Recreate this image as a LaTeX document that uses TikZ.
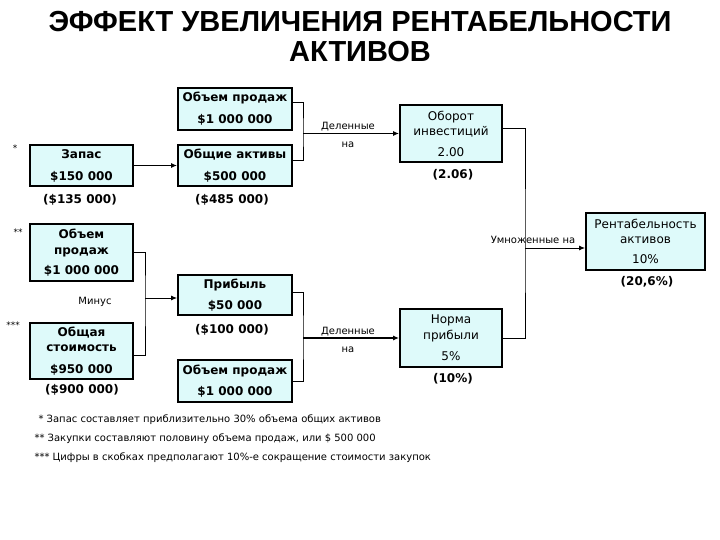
\documentclass[tikz,border=0pt]{standalone}
\usepackage{fontspec}
\setmainfont{DejaVu Sans}
\newfontfamily\titlefont{Liberation Sans}
\usetikzlibrary{arrows.meta}
\definecolor{boxfill}{RGB}{222,250,250}
\begin{document}
\begin{tikzpicture}[x=1pt,y=-1pt,
  box/.style={draw=black, line width=1.8pt, fill=boxfill, inner sep=0pt, align=center},
  bbox/.style={box, font=\bfseries\fontsize{12}{14}\selectfont},
  rbox/.style={box, font=\fontsize{12}{14}\selectfont},
  val/.style={font=\bfseries\fontsize{12}{14}\selectfont},
  lbl/.style={font=\fontsize{10}{12}\selectfont},
  note/.style={font=\fontsize{10}{12}\selectfont, anchor=west},
  star/.style={font=\fontsize{9}{10}\selectfont},
  thin/.style={line width=1pt},
  thickarr/.style={line width=1.6pt, -{Latex[length=6pt,width=5pt]}},
  thinarr/.style={line width=1pt, -{Latex[length=6pt,width=5pt]}}]
\fill[white] (0,0) rectangle (720,540);
\useasboundingbox (0,0) rectangle (720,540);

% title
\node[font=\titlefont\bfseries\fontsize{29}{31}\selectfont] (t1) at (360,22) {ЭФФЕКТ УВЕЛИЧЕНИЯ РЕНТАБЕЛЬНОСТИ};
\node[font=\titlefont\bfseries\fontsize{29}{31}\selectfont] (t2) at (360,52) {АКТИВОВ};

% boxes
\node[bbox, minimum width=114pt, minimum height=42pt] (vol1) at (235,109) {Объем продаж\\[8pt]\$1 000 000};
\node[bbox, minimum width=103pt, minimum height=41pt] (stock) at (81.5,165.5) {Запас\\[8pt]\$150 000};
\node[bbox, minimum width=114pt, minimum height=41pt] (assets) at (235,165.5) {Общие активы\\[8pt]\$500 000};
\node[rbox, minimum width=102pt, minimum height=57pt] (turn) at (451,133.5) {Оборот\\[1pt]инвестиций\\[7pt]2.00};
\node[bbox, minimum width=103pt, minimum height=57pt] (vol2) at (81.5,252.5) {Объем\\[2pt]продаж\\[6pt]\$1 000 000};
\node[rbox, minimum width=119pt, minimum height=57pt] (roa) at (645.5,241.5) {Рентабельность\\[1pt]активов\\[6pt]10\%};
\node[bbox, minimum width=114pt, minimum height=40pt] (profit) at (235,295) {Прибыль\\[7pt]\$50 000};
\node[bbox, minimum width=103pt, minimum height=56pt] (cost) at (81.5,351) {Общая\\[1pt]стоимость\\[8pt]\$950 000};
\node[rbox, minimum width=102pt, minimum height=58pt] (margin) at (451,338) {Норма\\[2pt]прибыли\\[7pt]5\%};
\node[bbox, minimum width=114pt, minimum height=42pt] (vol3) at (235,381) {Объем продаж\\[7pt]\$1 000 000};

% values below boxes
\node[val] (v1) at (80,200) {(\$135 000)};
\node[val] (v2) at (232,200) {(\$485 000)};
\node[val] (v3) at (453,175) {(2.06)};
\node[val] (v4) at (647,282) {(20,6\%)};
\node[val] (v5) at (232,330) {(\$100 000)};
\node[val] (v6) at (82,390) {(\$900 000)};
\node[val] (v7) at (453,379) {(10\%)};

% stars
\node[star] (s1) at (15,148) {*};
\node[star] (s2) at (18,232) {**};
\node[star] (s3) at (13,325) {***};

% labels
\node[lbl] (l1) at (348,127) {Деленные};
\node[lbl] (l2) at (348,145) {на};
\node[lbl] (l3) at (348,332) {Деленные};
\node[lbl] (l4) at (348,350) {на};
\node[lbl] (l5) at (95,302) {Минус};
\node[lbl] (l6) at (533,240) {Умноженные на};

% junctions
\coordinate (j1) at (303,133.5);
\coordinate (j2) at (525,248);
\coordinate (j3) at (145,298);
\coordinate (j4) at (303,338);

% connectors
\draw[thin] ([yshift=6pt]vol1.east) -| (j1) |- ([yshift=5pt]assets.east);
\draw[thickarr] (j1) -- (turn.west);
\draw[thickarr] (stock.east) -- (assets.west);
\draw[thin] ([yshift=5pt]turn.east) -| (j2) |- (margin.east);
\draw[thinarr] (j2) -- (j2 -| roa.west);
\draw[thin] (vol2.east) -| (j3) |- ([yshift=-4pt]cost.east);
\draw[thinarr] (j3) -- (j3 -| profit.west);
\draw[thin] ([yshift=3pt]profit.east) -| (j4) |- (vol3.east);
\draw[thickarr] (j4) -- (margin.west);

% footnotes
\node[note] (n1) at (35,420) {* Запас составляет приблизительно 30\% объема общих активов};
\node[note] (n2) at (31,439) {** Закупки составляют половину объема продаж, или \$ 500 000};
\node[note] (n3) at (31,458) {*** Цифры в скобках предполагают 10\%-е сокращение стоимости закупок};
\end{tikzpicture}
\end{document}
